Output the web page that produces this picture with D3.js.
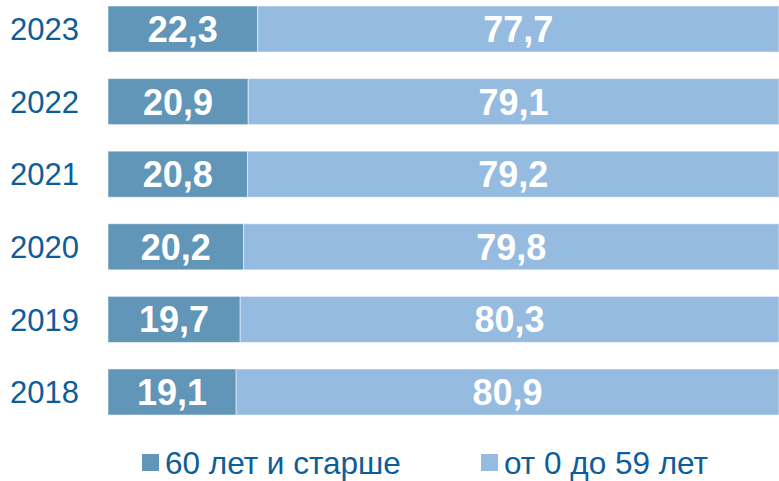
<!DOCTYPE html>
<html lang="ru">
<head>
    <meta charset="UTF-8">
    <title>Chart</title>
    <script src="https://cdn.jsdelivr.net/npm/d3@7"></script>
    <style>
        body { margin: 0; background: #fff; }
        svg { display: block; font-family: "Liberation Sans", Arial, sans-serif; }
    </style>
</head>
<body>
    <svg width="779" height="481" id="mainsvg"></svg>
    <script>
        const years = ["2023", "2022", "2021", "2020", "2019", "2018"]
        const older = [22.3, 20.9, 20.8, 20.2, 19.7, 19.1]
        const younger = [77.7, 79.1, 79.2, 79.8, 80.3, 80.9]
        const seriesNames = ["60 лет и старше", "от 0 до 59 лет"]
        const colors = ["#6196b8", "#95bbe0"]

        const svg = d3.select('svg')
        const x = d3.scaleLinear().domain([0, 100]).range([108, 779])
        const y = d3.scaleBand().domain(years).range([6, 415]).paddingInner(0.366).paddingOuter(0)

        const rows = years.map((yr, i) => ({ year: yr, vals: [older[i], younger[i]] }))
        const fmt = v => v.toFixed(1).replace('.', ',')

        const row = svg.selectAll('g.row').data(rows).join('g').attr('class', 'row')
            .attr('transform', d => `translate(0, ${y(d.year)})`)

        row.each(function(d) {
            const g = d3.select(this)
            let acc = 0
            d.vals.forEach((v, k) => {
                const x0 = x(acc), x1 = x(acc + v)
                g.append('rect')
                    .attr('x', x0).attr('y', 0)
                    .attr('width', x1 - x0).attr('height', y.bandwidth())
                    .attr('fill', colors[k])
                    .attr('stroke', 'rgba(255,255,255,0.5)').attr('stroke-width', 1)
                g.append('text')
                    .attr('x', (x0 + x1) / 2).attr('y', y.bandwidth() / 2)
                    .attr('dy', '0.36em')
                    .attr('text-anchor', 'middle')
                    .attr('fill', '#fff').attr('font-weight', 'bold')
                    .attr('font-size', 36)
                    .text(fmt(v))
                acc += v
            })
            g.append('text')
                .attr('x', 79).attr('y', y.bandwidth() / 2)
                .attr('dy', '0.36em')
                .attr('text-anchor', 'end')
                .attr('fill', '#0d5d9a')
                .attr('font-size', 31)
                .text(d.year)
        })

        // legend
        const legendX = [142, 481]
        const lg = svg.selectAll('g.leg').data(seriesNames).join('g').attr('class', 'leg')
            .attr('transform', (d, i) => `translate(${legendX[i]}, 454)`)
        lg.append('rect').attr('width', 17).attr('height', 17).attr('fill', (d, i) => colors[i])
        lg.append('text').attr('x', 23).attr('y', 20)
            .attr('fill', '#0d5d9a').attr('font-size', 31.5)
            .text(d => d)
    </script>
</body>
</html>
